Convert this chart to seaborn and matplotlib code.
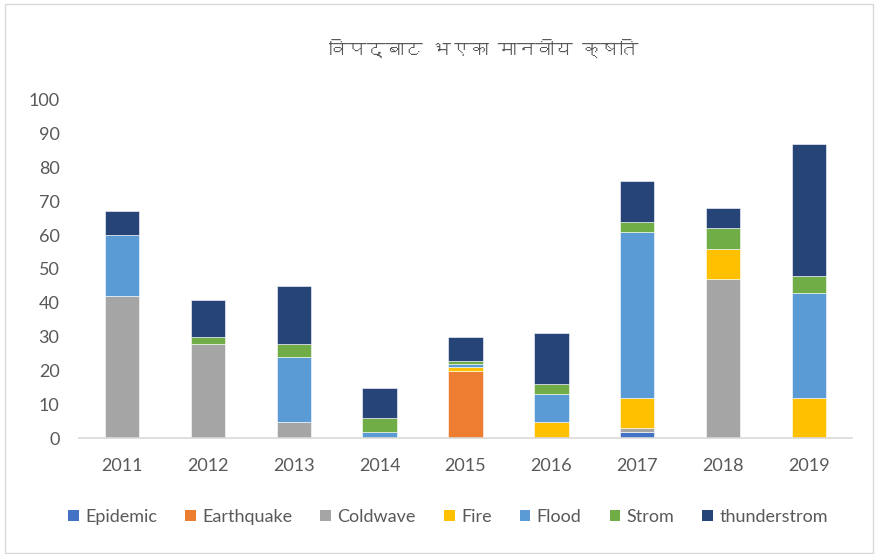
import matplotlib
matplotlib.use("Agg")
import matplotlib.pyplot as plt
from matplotlib import font_manager
from matplotlib.ft2font import FT2Font
from matplotlib.patches import Patch, Rectangle
import seaborn as sns

# data
years = ["2011", "2012", "2013", "2014", "2015", "2016", "2017", "2018", "2019"]
hazards = ["Epidemic", "Earthquake", "Coldwave", "Fire", "Flood", "Strom", "thunderstrom"]
epidemic = [0, 0, 0, 0, 0, 0, 2, 0, 0]
earthquake = [0, 0, 0, 0, 20, 0, 0, 0, 0]
coldwave = [42, 28, 5, 0, 0, 0, 1, 47, 0]
fire = [0, 0, 0, 0, 1, 5, 9, 9, 12]
flood = [18, 0, 19, 2, 1, 8, 49, 0, 31]
strom = [0, 2, 4, 4, 1, 3, 3, 6, 5]
thunderstrom = [7, 11, 17, 9, 7, 15, 12, 6, 39]
series = [epidemic, earthquake, coldwave, fire, flood, strom, thunderstrom]
colors = ["#4472C4", "#ED7D31", "#A5A5A5", "#FFC000", "#5B9BD5", "#70AD47", "#264478"]
title = "विपद्बाट भएका मानवीय क्षति"


def find_font(codepoint):
    """Return the name of the first installed font that has the glyph."""
    for f in font_manager.fontManager.ttflist:
        try:
            if FT2Font(f.fname).get_char_index(codepoint):
                return f.name
        except Exception:
            pass
    return None


sns.set_style("white")
deva = find_font(0x0915)
families = ["Lato"] + ([deva] if deva else []) + ["DejaVu Sans"]
plt.rcParams["font.family"] = families
text_col = "#595959"

fig = plt.figure(figsize=(8.78, 5.54), dpi=100)
ax = fig.add_axes([79 / 878, 0.2085, 773 / 878, 0.6119])

bottom = [0] * len(years)
for vals, col in zip(series, colors):
    sns.barplot(x=years, y=vals, bottom=bottom, color=col, saturation=1,
                width=0.4, edgecolor="white", linewidth=0.4, ax=ax)
    bottom = [b + v for b, v in zip(bottom, vals)]

ax.set_xlim(-0.5, 8.5)
ax.set_ylim(0, 100)
ax.set_yticks(range(0, 101, 10))
ax.set_xlabel("")
ax.set_ylabel("")
for s in ["top", "right", "left"]:
    ax.spines[s].set_visible(False)
ax.spines["bottom"].set_color("#D9D9D9")
ax.spines["bottom"].set_linewidth(1.2)
ax.tick_params(axis="y", length=0, pad=14, labelsize=13, labelcolor=text_col)
ax.tick_params(axis="x", length=0, pad=14, labelsize=13, labelcolor=text_col)

fig.text(484 / 878, 1 - 48 / 554, title, ha="center", va="center",
         fontsize=13.5, color=text_col, family=([deva] if deva else []) + ["DejaVu Sans"])

handles = [Patch(facecolor=c, edgecolor="none", label=h) for h, c in zip(hazards, colors)]
leg = fig.legend(handles=handles, loc="center", bbox_to_anchor=(448 / 878, 1 - 517 / 554),
                 ncol=7, frameon=False, fontsize=13, handlelength=0.6, handleheight=0.6,
                 handletextpad=0.35, columnspacing=1.55)
for t in leg.get_texts():
    t.set_color(text_col)

# chart-area border
fig.patches.append(Rectangle((5 / 878, 1 / 554), 868 / 878, 549 / 554, transform=fig.transFigure,
                             fill=False, edgecolor="#D9D9D9", linewidth=1))

fig.savefig("out.png", dpi=100)
